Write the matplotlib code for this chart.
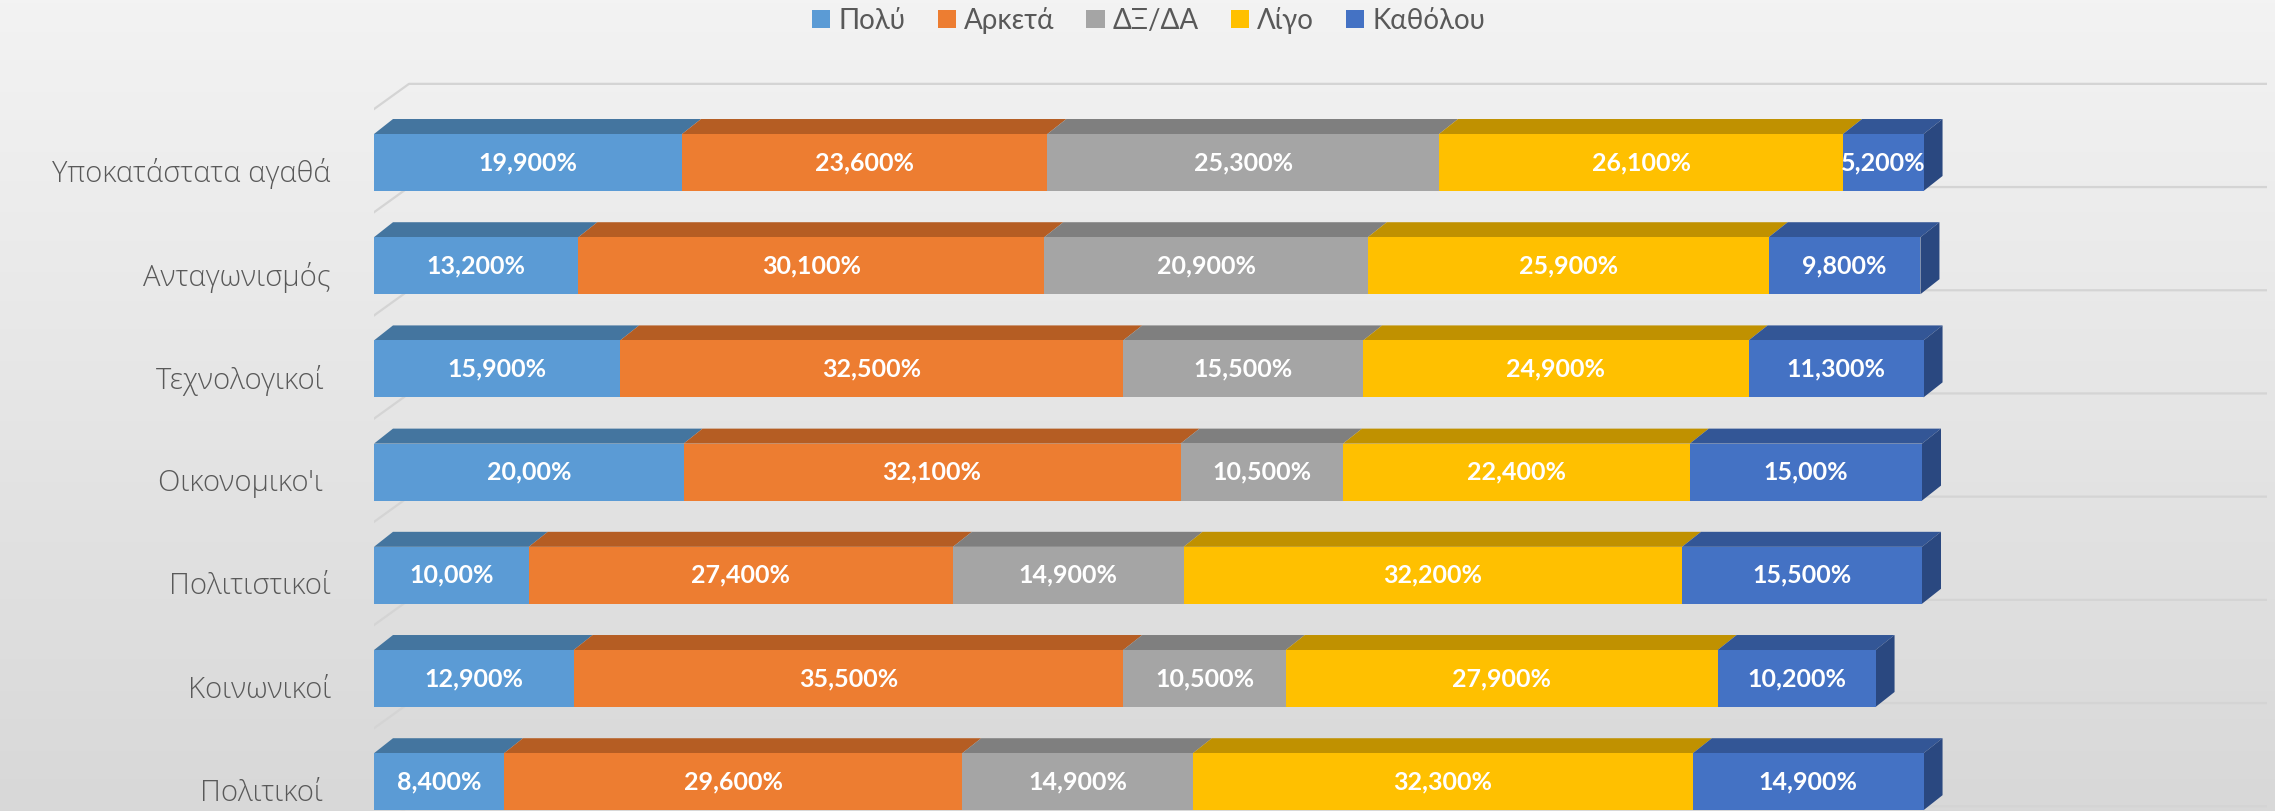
import matplotlib
matplotlib.use("Agg")
import matplotlib.pyplot as plt
from matplotlib.patches import Polygon, Patch
import numpy as np

categories = ["Υποκατάστατα αγαθά", "Ανταγωνισμός", "Τεχνολογικοί ", "Οικονομικο'ι ",
              "Πολιτιστικοί", "Κοινωνικοί", "Πολιτικοί "]
series = ["Πολύ", "Αρκετά", "ΔΞ/ΔΑ", "Λίγο", "Καθόλου"]
polu    = [19.9, 13.2, 15.9, 20.0, 10.0, 12.9, 8.4]
arketa  = [23.6, 30.1, 32.5, 32.1, 27.4, 35.5, 29.6]
dxda    = [25.3, 20.9, 15.5, 10.5, 14.9, 10.5, 14.9]
ligo    = [26.1, 25.9, 24.9, 22.4, 32.2, 27.9, 32.3]
katholou = [5.2, 9.8, 11.3, 15.0, 15.5, 10.2, 14.9]

front = ["#5B9BD5", "#ED7D31", "#A5A5A5", "#FFC000", "#4472C4"]
topc  = ["#44759F", "#B55D23", "#7F7F7F", "#C09100", "#335696"]
sidec = "#2A4880"
TXT = "#595959"


def fmt(v):
    s = f"{v:.2f}" if float(v).is_integer() else f"{v:.3f}"
    return s.replace(".", ",") + "%"


W, H = 2275, 811
fig = plt.figure(figsize=(W / 100, H / 100), dpi=100)

# background gradient
bg = fig.add_axes([0, 0, 1, 1], zorder=-10)
grad = np.linspace(243, 216, 256)[:, None] / 255.0
bg.imshow(np.dstack([grad, grad, grad]), aspect="auto", extent=[0, 1, 0, 1])
bg.set_axis_off()

# main axes: 0% at x=374px, 1% = 15.48px; row i centre at 162.5 + 103.2*i px
x0, ppu = 374, 15.48
xmax = (2267 - x0) / ppu
ax = fig.add_axes([x0 / W, 0, (2267 - x0) / W, 1])
ax.set_xlim(0, xmax)
ax.set_ylim((H - 162.5) / 103.2, -162.5 / 103.2)
ax.set_axis_off()
ax.patch.set_alpha(0)

h = 0.552
ddx, ddy = 19 / ppu, 15 / 103.2          # bar depth
wx0, wx1, wdy = -15 / ppu, 35 / ppu, 0.349  # wall depth

# walls / gridlines
ax.plot([wx0, wx0], [-0.413, ax.get_ylim()[0]], color="#d6d6d6", lw=1.5, zorder=1)
for k in range(len(categories) + 1):
    yf = k - 0.5 + 0.087
    ax.plot([wx0, wx1, xmax], [yf, yf - wdy, yf - wdy], color="#d4d4d4", lw=1.6, zorder=1)

data = [polu, arketa, dxda, ligo, katholou]
for i in range(len(categories)):
    left = 0.0
    t = i - h / 2
    b = i + h / 2
    for j in range(len(series)):
        v = data[j][i]
        r = left + v
        ax.add_patch(Polygon([(left, t), (left + ddx, t - ddy), (r + ddx, t - ddy), (r, t)],
                             closed=True, facecolor=topc[j], edgecolor="none", zorder=3))
        ax.barh(i, v, left=left, height=h, color=front[j], edgecolor="none", zorder=4)
        ax.text(left + v / 2, i, fmt(v), ha="center", va="center", color="white",
                fontsize=18, fontweight="bold", family="Lato", zorder=6)
        left = r
    ax.add_patch(Polygon([(left, t), (left + ddx, t - ddy), (left + ddx, b - ddy), (left, b)],
                         closed=True, facecolor=sidec, edgecolor="none", zorder=3))
    ax.text(-43 / ppu, i + 0.11, categories[i], ha="right", va="center", color=TXT,
            fontsize=21, family="Open Sans", fontweight="light", zorder=6)

handles = [Patch(facecolor=c, edgecolor="none") for c in front]
fig.legend(handles, series, loc="upper center", bbox_to_anchor=(0.505, 1.012), ncol=5,
           frameon=False, prop={"family": "Lato", "size": 20},
           handlelength=0.65, handleheight=0.65, handletextpad=0.3, columnspacing=1.15,
           labelcolor=TXT, borderaxespad=0.2)

fig.savefig("out.png", dpi=100)
